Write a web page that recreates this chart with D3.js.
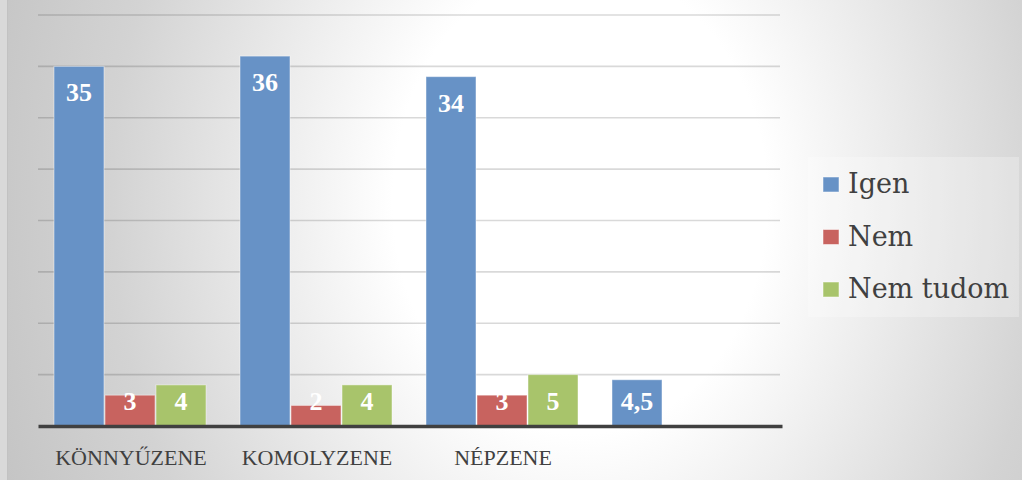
<!DOCTYPE html>
<html>
<head>
<meta charset="utf-8">
<script src="https://cdn.jsdelivr.net/npm/d3@7"></script>
<style>
  html, body { margin: 0; padding: 0; background: #fff; }
  svg { display: block; }
</style>
</head>
<body>
<div id="viz"></div>
<script>
const categories = ["KÖNNYŰZENE", "KOMOLYZENE", "NÉPZENE", ""];
const seriesNames = ["Igen", "Nem", "Nem tudom"];
const igen = [35, 36, 34, 4.5];
const nem = [3, 2, 3, null];
const nemTudom = [4, 4, 5, null];
const yTicks = [0, 5, 10, 15, 20, 25, 30, 35, 40];

const colors = { "Igen": "#6792c6", "Nem": "#c8635f", "Nem tudom": "#a8c46b" };

const width = 1022;
const height = 480;
const margin = { left: 38, right: 240, top: 15, bottom: 54 };

const svg = d3.select("#viz").append("svg")
    .attr("width", width)
    .attr("height", height);

// background
const defs = svg.append("defs");
const grad = defs.append("radialGradient")
    .attr("id", "bg")
    .attr("gradientUnits", "userSpaceOnUse")
    .attr("cx", 0).attr("cy", 0).attr("r", 624)
    .attr("gradientTransform", "translate(580,200) scale(1,1.25)");
grad.append("stop").attr("offset", 0).attr("stop-color", "#ffffff");
grad.append("stop").attr("offset", 0.3).attr("stop-color", "#ffffff");
grad.append("stop").attr("offset", 0.75).attr("stop-color", "#d3d3d3");
grad.append("stop").attr("offset", 1).attr("stop-color", "#c4c4c4");

svg.append("rect")
    .attr("width", width).attr("height", height)
    .attr("fill", "url(#bg)");
svg.append("rect")
    .attr("width", 7).attr("height", height)
    .attr("fill", "#d9d9d9");
svg.append("line")
    .attr("x1", 7.5).attr("x2", 7.5).attr("y1", 0).attr("y2", height)
    .attr("stroke", "#c2c2c2");

const yScale = d3.scaleLinear()
    .domain([0, 40])
    .range([height - margin.bottom, margin.top]);

const xScale = d3.scaleBand()
    .domain(categories)
    .range([margin.left, width - margin.right]);

const xInner = d3.scaleBand()
    .domain(seriesNames)
    .range([16, xScale.bandwidth() - 18])
    .paddingInner(0.02);

// gridlines
svg.append("g")
    .selectAll("line")
    .data(yTicks.filter(d => d > 0))
    .join("line")
        .attr("x1", margin.left)
        .attr("x2", width - margin.right - 2)
        .attr("y1", d => yScale(d))
        .attr("y2", d => yScale(d))
        .attr("stroke", "#000")
        .attr("stroke-opacity", 0.15)
        .attr("stroke-width", 1.6);

const rows = categories.map((c, i) => ({
    cat: c,
    values: [
        { s: "Igen", v: igen[i] },
        { s: "Nem", v: nem[i] },
        { s: "Nem tudom", v: nemTudom[i] }
    ].filter(d => d.v != null)
}));

const fmt = d3.formatLocale({ decimal: ",", thousands: " ", grouping: [3], currency: ["", ""] }).format("~g");

const gCat = svg.selectAll(".cat")
    .data(rows)
    .join("g")
        .attr("class", "cat")
        .attr("transform", (d, i) => `translate(${xScale(categories[i])},0)`);

gCat.selectAll("rect")
    .data(d => d.values)
    .join("rect")
        .attr("x", d => xInner(d.s))
        .attr("y", d => yScale(d.v))
        .attr("width", xInner.bandwidth())
        .attr("height", d => yScale(0) - yScale(d.v))
        .attr("fill", d => colors[d.s])
        .attr("stroke", "#fff")
        .attr("stroke-opacity", 0.45)
        .attr("stroke-width", 1);

gCat.selectAll("text.val")
    .data(d => d.values)
    .join("text")
        .attr("class", "val")
        .attr("x", d => xInner(d.s) + xInner.bandwidth() / 2)
        .attr("y", d => Math.min(yScale(d.v) + 35, yScale(0) - 16))
        .attr("text-anchor", "middle")
        .attr("fill", "#fff")
        .style("font-family", "'Liberation Serif', serif")
        .style("font-weight", "bold")
        .style("font-size", "26px")
        .text(d => fmt(d.v));

// x axis
const xAxis = svg.append("g")
    .attr("transform", `translate(0,${yScale(0)})`)
    .call(d3.axisBottom(xScale).tickSize(0).tickSizeOuter(0));
xAxis.select(".domain")
    .attr("stroke", "#404040")
    .attr("stroke-width", 3.5);
xAxis.selectAll(".tick text")
    .attr("y", 0)
    .attr("dy", 0)
    .attr("transform", "translate(0,39)")
    .attr("fill", "#404040")
    .style("font-family", "'Liberation Serif', serif")
    .style("font-size", "22px");

// legend
const legend = svg.append("g").attr("transform", "translate(808,157)");
legend.append("rect")
    .attr("width", 211).attr("height", 160)
    .attr("fill", "#fff").attr("fill-opacity", 0.25);

const legendY = d3.scalePoint().domain(seriesNames).range([36, 141]);

const li = legend.selectAll(".item")
    .data(seriesNames)
    .join("g")
        .attr("class", "item")
        .attr("transform", d => `translate(0,${legendY(d)})`);
li.append("rect")
    .attr("x", 15).attr("y", -16)
    .attr("width", 16).attr("height", 15)
    .attr("fill", d => colors[d])
    .attr("stroke", "#fff").attr("stroke-opacity", 0.5);
li.append("text")
    .attr("x", 40)
    .attr("y", 0)
    .attr("fill", "#404040")
    .style("font-family", "'DejaVu Serif', serif")
    .style("font-size", "27px")
    .text(d => d);
</script>
</body>
</html>
